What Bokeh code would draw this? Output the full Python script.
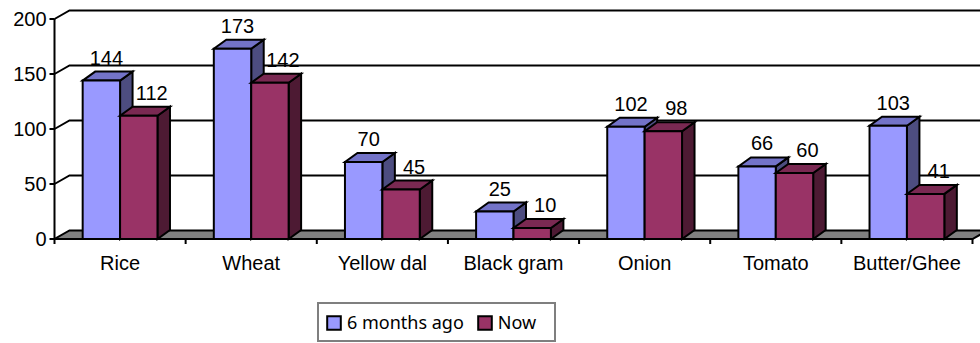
from bokeh.plotting import figure
from bokeh.models import ColumnDataSource, Range1d, Legend, LegendItem
from bokeh.embed import file_html
from bokeh.resources import INLINE
from bokeh.core.properties import value

# ---------------- data ----------------
categories = ["Rice", "Wheat", "Yellow dal", "Black gram", "Onion", "Tomato", "Butter/Ghee"]
six_months_ago = [144, 173, 70, 25, 102, 66, 103]
now = [112, 142, 45, 10, 98, 60, 41]
y_ticks = [0, 50, 100, 150, 200]
series_names = ["6 months ago", "Now"]

# ---------------- layout constants (pixels) ----------------
W, H = 980, 343
X0_PX, X1_PX = 54, 972      # front plane left/right
Y0_PX = 238.5               # screen y of value 0 on front plane
PX_PER_Y = 1.1              # pixels per value unit
n = len(categories)
PX_PER_CAT = (X1_PX - X0_PX) / n
BAR_W = 37.4 / PX_PER_CAT
LW = 2

def dx(px):
    return px / PX_PER_CAT

def dy(px):
    return px / PX_PER_Y

WALL_DX, WALL_DY = dx(15), dy(8.5)
BAR_DX, BAR_DY = dx(12.5), dy(9)

FONT = value("Liberation Sans")

p = figure(width=W, height=H, output_backend="svg", toolbar_location=None,
           x_range=Range1d(-X0_PX / PX_PER_CAT, (W - X0_PX) / PX_PER_CAT),
           y_range=Range1d(-(H - Y0_PX) / PX_PER_Y, Y0_PX / PX_PER_Y),
           x_axis_type=None, y_axis_type=None, min_border=0)
p.outline_line_color = None
p.background_fill_color = "white"
p.border_fill_color = "white"

top_tick = max(y_ticks)

# floor
p.patch(x=[0, n, n + WALL_DX, WALL_DX], y=[0, 0, WALL_DY, WALL_DY],
        fill_color="#808080", line_color="black", line_width=LW, line_join="miter")

# gridlines: side wall diagonal + back wall horizontal
gx, gy = [], []
for t in y_ticks[1:]:
    gx.append([0, WALL_DX, n + WALL_DX + 1])
    gy.append([t, t + WALL_DY, t + WALL_DY])
p.multi_line(xs=gx, ys=gy, line_color="black", line_width=LW, line_join="miter")

# front y axis line + ticks
p.segment(x0=[0], y0=[0], x1=[0], y1=[top_tick], line_color="black", line_width=LW)
p.segment(x0=[-dx(5)] * len(y_ticks), y0=y_ticks, x1=[0] * len(y_ticks), y1=y_ticks,
          line_color="black", line_width=LW)
p.text(x=[0] * len(y_ticks), y=y_ticks, text=[str(t) for t in y_ticks],
       x_offset=-8, text_align="right", text_baseline="middle",
       text_font=FONT, text_font_size="20px", text_color="black")

# x axis ticks at category boundaries
bounds = list(range(n + 1))
p.segment(x0=bounds, y0=[0] * len(bounds), x1=bounds, y1=[-dy(5)] * len(bounds),
          line_color="black", line_width=LW)
centers = [i + 0.5 for i in range(n)]
p.text(x=centers, y=[0] * n, text=categories, y_offset=24,
       text_align="center", text_baseline="middle",
       text_font=FONT, text_font_size="20px", text_color="black")


def draw_bars(lefts, vals, front, top, side, label_dx):
    rights = [l + BAR_W for l in lefts]
    side_xs = [[r, r, r + BAR_DX, r + BAR_DX] for r in rights]
    side_ys = [[0, v, v + BAR_DY, BAR_DY] for v in vals]
    p.patches(xs=side_xs, ys=side_ys, fill_color=side, line_color="black",
              line_width=LW, line_join="miter")
    top_xs = [[l, r, r + BAR_DX, l + BAR_DX] for l, r in zip(lefts, rights)]
    top_ys = [[v, v, v + BAR_DY, v + BAR_DY] for v in vals]
    p.patches(xs=top_xs, ys=top_ys, fill_color=top, line_color="black",
              line_width=LW, line_join="miter")
    src = ColumnDataSource(dict(left=lefts, right=rights, top=vals, bottom=[0] * len(vals)))
    r = p.quad(left="left", right="right", top="top", bottom="bottom", source=src,
               fill_color=front, line_color="black", line_width=LW, line_join="miter")
    p.text(x=[(l + rr) / 2 for l, rr in zip(lefts, rights)], y=vals,
           text=[str(v) for v in vals], x_offset=label_dx, y_offset=-23,
           text_align="center", text_baseline="middle",
           text_font=FONT, text_font_size="20px", text_color="black")
    return r


blue_r = draw_bars([c - BAR_W for c in centers], six_months_ago,
                   "#9999FF", "#7373C8", "#4D4D80", 5)
red_r = draw_bars(list(centers), now,
                  "#993366", "#7A2952", "#4D1A33", 13)

legend = Legend(items=[LegendItem(label=series_names[0], renderers=[blue_r]),
                       LegendItem(label=series_names[1], renderers=[red_r])],
                location=(317, 1), orientation="horizontal",
                padding=6, spacing=12, label_standoff=5,
                glyph_width=17, glyph_height=17, label_height=24, label_width=50,
                margin=0, border_line_color="black", border_line_width=2,
                background_fill_color="white", background_fill_alpha=1,
                label_text_font="Noto Sans", label_text_font_size="18px",
                label_text_color="black")
p.add_layout(legend)

open("out.html", "w").write(file_html(p, INLINE))
